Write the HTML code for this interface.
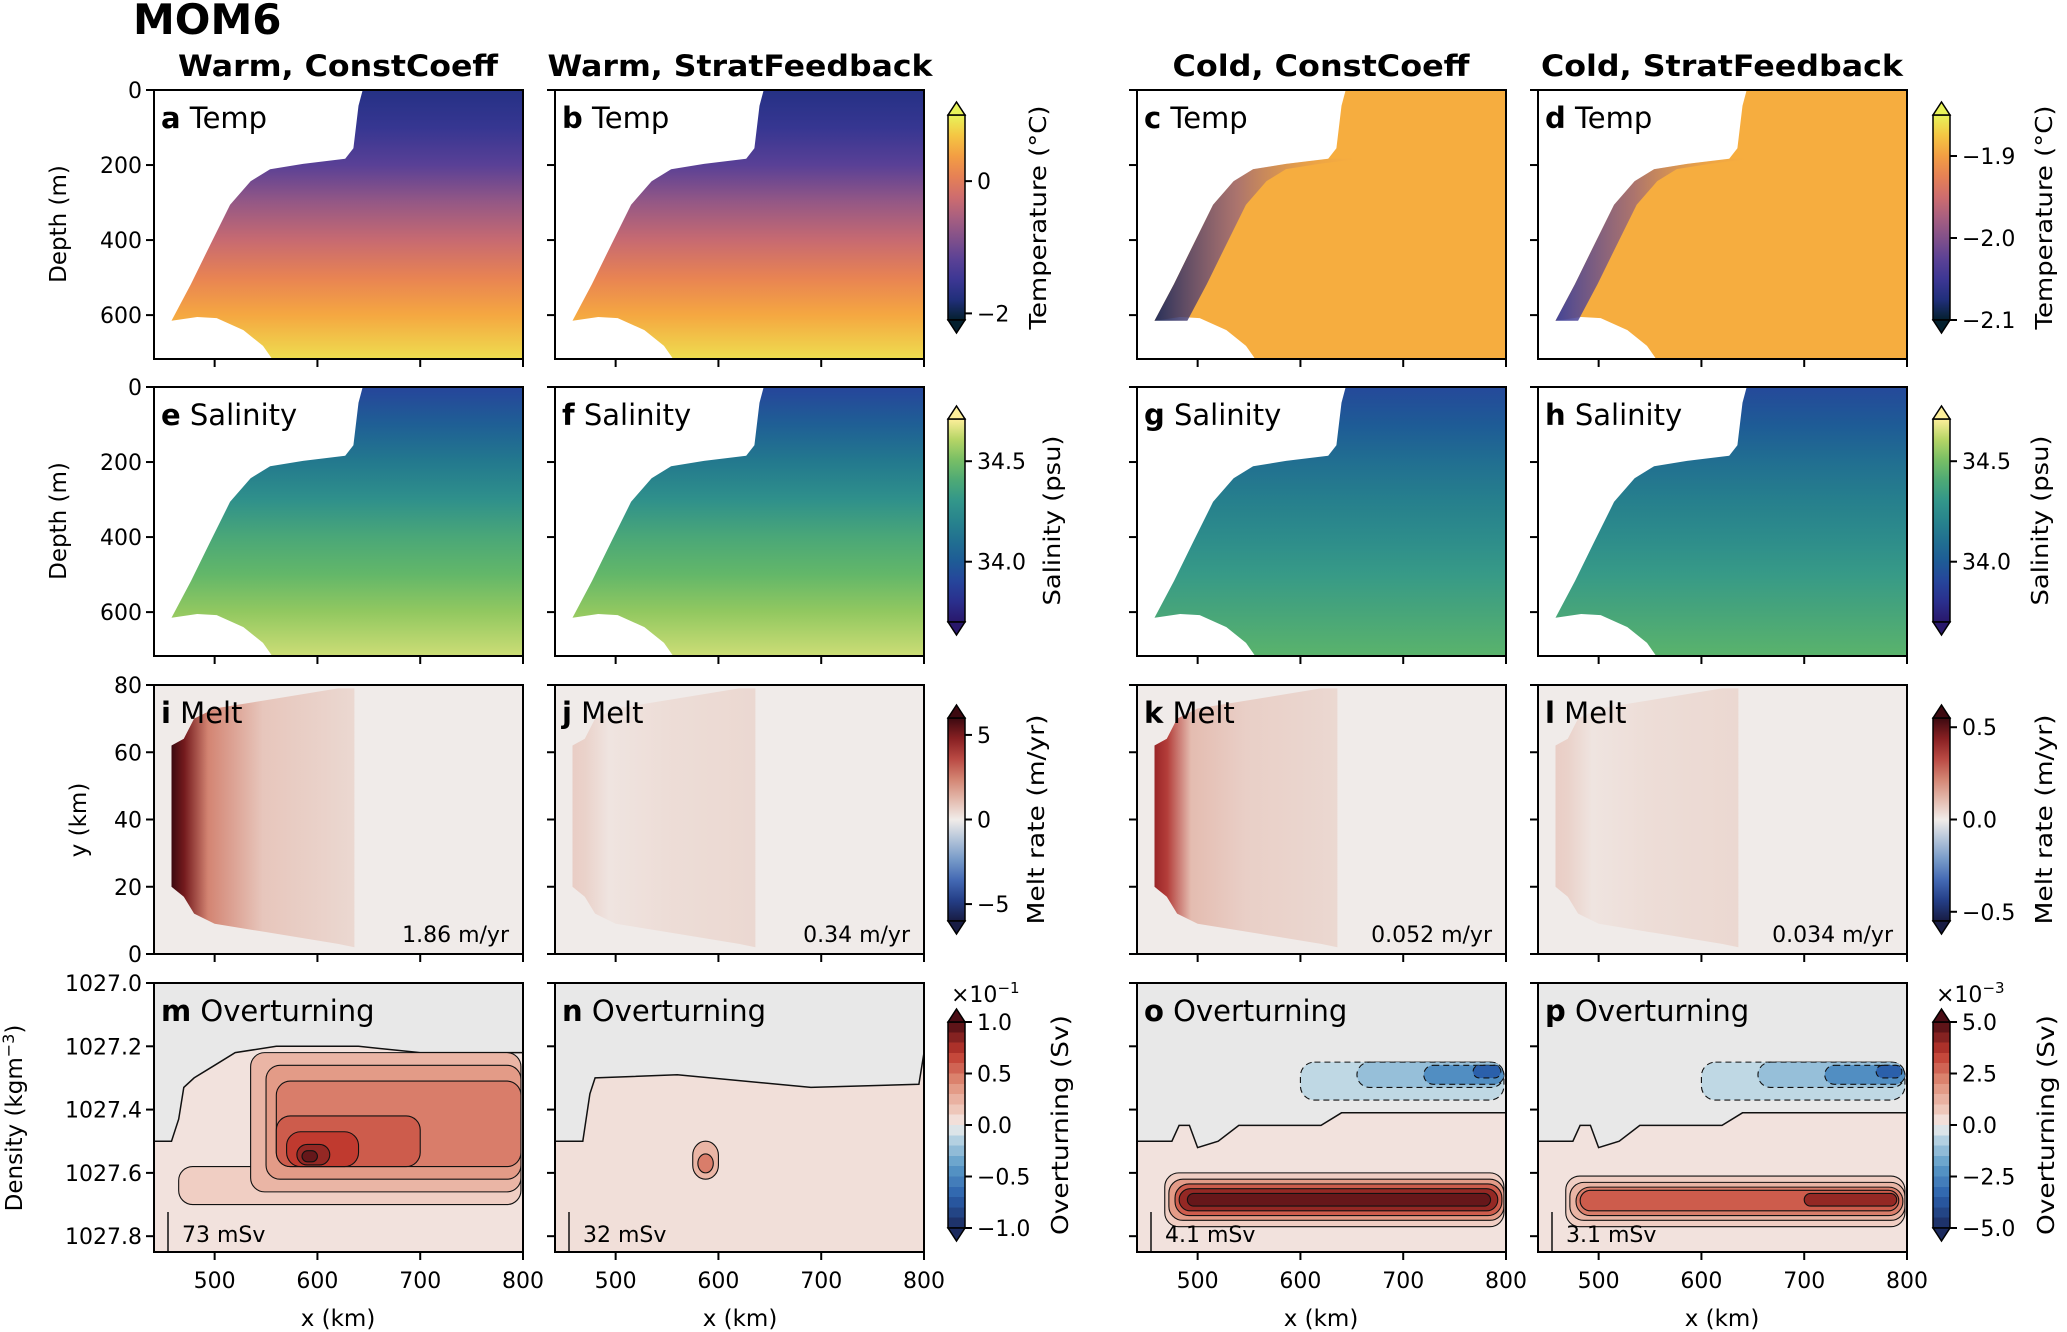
<!DOCTYPE html>
<html><head><meta charset="utf-8">
<style>
html,body{margin:0;padding:0;background:#fff;}
svg{display:block;font-family:"DejaVu Sans","Liberation Sans",sans-serif;}
</style></head>
<body>
<svg id="fig" xmlns="http://www.w3.org/2000/svg" width="2067" height="1332" viewBox="0 0 2067 1332">
<text x="133" y="34" font-size="42" font-weight="bold">MOM6</text>
<text x="338" y="76" font-size="29" font-weight="bold" text-anchor="middle" textLength="320" lengthAdjust="spacingAndGlyphs">Warm, ConstCoeff</text>
<text x="740" y="76" font-size="29" font-weight="bold" text-anchor="middle" textLength="385" lengthAdjust="spacingAndGlyphs">Warm, StratFeedback</text>
<text x="1321" y="76" font-size="29" font-weight="bold" text-anchor="middle" textLength="297" lengthAdjust="spacingAndGlyphs">Cold, ConstCoeff</text>
<text x="1722" y="76" font-size="29" font-weight="bold" text-anchor="middle" textLength="362" lengthAdjust="spacingAndGlyphs">Cold, StratFeedback</text>
<text transform="translate(66,224) rotate(-90)" font-size="23" text-anchor="middle">Depth (m)</text>
<text transform="translate(66,521) rotate(-90)" font-size="23" text-anchor="middle">Depth (m)</text>
<text transform="translate(86,820) rotate(-90)" font-size="23" text-anchor="middle">y (km)</text>
<text transform="translate(22,1118) rotate(-90)" font-size="23" text-anchor="middle">Density (kgm<tspan dy="-8" font-size="16">−3</tspan><tspan dy="8">)</tspan></text>
<text x="338" y="1326" font-size="23" text-anchor="middle">x (km)</text>
<text x="740" y="1326" font-size="23" text-anchor="middle">x (km)</text>
<text x="1321" y="1326" font-size="23" text-anchor="middle">x (km)</text>
<text x="1722" y="1326" font-size="23" text-anchor="middle">x (km)</text>
<defs id="defs"></defs>
<g id="layer"></g>
</svg>
<script>
// ---- data ----
const xTicks=[500,600,700,800];
const depthTicks=[0,200,400,600];
const yKmTicks=[0,20,40,60,80];
const densTicks=[1027.0,1027.2,1027.4,1027.6,1027.8];
const densTickLabels=["1027.0","1027.2","1027.4","1027.6","1027.8"];
const draftX=[458,477,496,515,535,554,586,627,635,640,644];
const draftD=[615,517,411,306,243,211,197,183,155,42,0];
const bedX=[458,483,502,528,547,556];
const bedD=[615,605,608,640,682,717];
const profDepth=[0,100,200,300,400,500,600,717];
const tempWarm=[-1.75,-1.55,-1.2,-0.7,-0.3,0.1,0.45,0.85];
const tempCold=[-1.89,-1.89,-1.89,-1.89,-1.89,-1.89,-1.89,-1.89];
const saltWarm=[33.9,34.02,34.15,34.27,34.39,34.47,34.55,34.64];
const saltCold=[33.92,34.0,34.1,34.18,34.25,34.32,34.38,34.45];
const meltMean=["1.86 m/yr","0.34 m/yr","0.052 m/yr","0.034 m/yr"];
const otMax=["73 mSv","32 mSv","4.1 mSv","3.1 mSv"];
const meltPeak=[1.0,0.12,0.75,0.12];
const otM=[[465,798,1027.58,1027.70,1],[535,798,1027.22,1027.66,2],[550,798,1027.26,1027.62,3],[560,798,1027.31,1027.58,4],[560,700,1027.42,1027.58,5],[570,640,1027.47,1027.58,6],[580,612,1027.51,1027.575,7],[585,600,1027.53,1027.565,8]];
const otN=[[575,600,1027.50,1027.62,2],[580,595,1027.54,1027.60,4]];
const otO=[[468,798,1027.60,1027.77,1],[472,798,1027.62,1027.75,3],[478,796,1027.635,1027.735,5],[482,792,1027.65,1027.72,7],[490,785,1027.665,1027.705,8],[600,798,1027.25,1027.37,-1],[655,798,1027.25,1027.33,-2],[720,798,1027.26,1027.32,-4],[768,795,1027.26,1027.30,-6]];
const otP=[[468,798,1027.61,1027.77,1],[472,798,1027.63,1027.75,2],[478,796,1027.645,1027.735,4],[482,792,1027.655,1027.72,5],[700,790,1027.665,1027.705,7],[600,798,1027.25,1027.37,-1],[655,798,1027.25,1027.33,-2],[720,798,1027.26,1027.32,-4],[770,795,1027.26,1027.30,-6]];
const otBoundM=[[441,1027.5],[458,1027.5],[465,1027.43],[470,1027.33],[480,1027.3],[500,1027.26],[520,1027.22],[560,1027.2],[640,1027.2],[700,1027.22],[800,1027.22]];
const otBoundN=[[441,1027.5],[468,1027.5],[475,1027.35],[480,1027.3],[560,1027.29],[690,1027.33],[795,1027.32],[800,1027.22]];
const otBoundO=[[441,1027.5],[475,1027.5],[482,1027.45],[492,1027.45],[500,1027.52],[520,1027.5],[540,1027.45],[620,1027.45],[640,1027.41],[800,1027.41]];

// ---- layout ----
const colL=[154,555,1137,1538], rowT=[90,387,685,983], PW=369, PH=269;
const X0=441,X1=800;
const NS="http://www.w3.org/2000/svg";
const layer=document.getElementById('layer'), defs=document.getElementById('defs');
function el(tag,attrs,parent){const e=document.createElementNS(NS,tag);for(const k in attrs)e.setAttribute(k,attrs[k]);(parent||layer).appendChild(e);return e;}
function sx(c,x){return colL[c]+(x-X0)/(X1-X0)*PW;}
function sDepth(r,d){return rowT[r]+d/717*PH;}
function sYkm(r,y){return rowT[r]+(80-y)/80*PH;}
function sDens(r,d){return rowT[r]+(d-1027.0)/0.85*PH;}
function lerpHex(a,b,t){const pa=[1,3,5].map(i=>parseInt(a.substr(i,2),16)),pb=[1,3,5].map(i=>parseInt(b.substr(i,2),16));return 'rgb('+pa.map((v,i)=>Math.round(v+(pb[i]-v)*t)).join(',')+')';}
function cmap(stops,t){t=Math.max(0,Math.min(1,t));for(let i=1;i<stops.length;i++){if(t<=stops[i][0]){const s=(t-stops[i-1][0])/(stops[i][0]-stops[i-1][0]);return lerpHex(stops[i-1][1],stops[i][1],s);}}return stops[stops.length-1][1];}
const thermal=[[0,'#04202e'],[0.12,'#27328a'],[0.25,'#4a3a9a'],[0.38,'#7a4e8c'],[0.5,'#a85f80'],[0.62,'#d6706a'],[0.75,'#f08c48'],[0.87,'#f8b83c'],[1,'#e8f35a']];
const haline=[[0,'#29186b'],[0.15,'#2a3a9e'],[0.3,'#1e5c96'],[0.45,'#237a8e'],[0.6,'#33978a'],[0.75,'#5cb46a'],[0.88,'#a8d05c'],[1,'#fdef9a']];
const balance=[[0,'#181c43'],[0.15,'#2a4fa8'],[0.32,'#7fa3cc'],[0.5,'#f1ece9'],[0.68,'#d8907c'],[0.85,'#ac2b2b'],[1,'#3c0910']];
const rdbu=[[0,'#1b2a5e'],[0.15,'#2a5fab'],[0.3,'#5b9bc8'],[0.45,'#c5dbe6'],[0.5,'#f3ecea'],[0.55,'#f1d2c7'],[0.7,'#e0907a'],[0.85,'#c0392e'],[1,'#4a0c14']];
function otColor(lv){return cmap(rdbu,0.5+lv*0.058);}

function axes(r,c,yt,ylab,ymap){
  for(let i=0;i<yt.length;i++){
    const y=ymap(r,yt[i]);
    const t=el('line',{x1:colL[c]-8,x2:colL[c],y1:y,y2:y,stroke:'#000','stroke-width':2});
    
    
    if(c===0){
      const tx=el('text',{x:colL[c]-12,y:y+8,'font-size':22,'text-anchor':'end'});
      
      
      tx.textContent=ylab[i];
    }
  }
  for(const xv of xTicks){
    const x=sx(c,xv);
    const t=el('line',{x1:x,x2:x,y1:rowT[r]+PH,y2:rowT[r]+PH+8,stroke:'#000','stroke-width':2});
    
    
    if(r===3){
      const tx=el('text',{x:x,y:rowT[r]+PH+36,'font-size':22,'text-anchor':'middle'});
      
      
      tx.textContent=String(xv);
    }
  }
  const f=el('rect',{x:colL[c],y:rowT[r],width:PW,height:PH,fill:'none',stroke:'#000','stroke-width':2});
  
  
}
function label(r,c,letter,name){
  const t=el('text',{x:colL[c]+7,y:rowT[r]+38,'font-size':29});
  
  
  t.innerHTML='<tspan font-weight="bold">'+letter+'</tspan> '+name;
}

function waterPoly(r,c){
  const p=[[sx(c,644),sDepth(r,0)],[sx(c,800),sDepth(r,0)],[sx(c,800),sDepth(r,717)]];
  for(let i=bedX.length-1;i>=0;i--)p.push([sx(c,bedX[i]),sDepth(r,bedD[i])]);
  for(let i=0;i<draftX.length;i++)p.push([sx(c,draftX[i]),sDepth(r,draftD[i])]);
  return p.map(q=>q[0].toFixed(1)+','+q[1].toFixed(1)).join(' ');
}
function section(r,c,prof,stops,vmin,vmax,id){
  const g=el('linearGradient',{id:id,x1:0,y1:0,x2:0,y2:1},defs);
  for(let i=0;i<profDepth.length;i++){
    el('stop',{offset:profDepth[i]/717,'stop-color':cmap(stops,(prof[i]-vmin)/(vmax-vmin))},g);
  }
  const p=el('polygon',{points:waterPoly(r,c),fill:'url(#'+id+')'});
  
  
}
const rowLetters=[['a','b','c','d'],['e','f','g','h'],['i','j','k','l'],['m','n','o','p']];
for(let c=0;c<4;c++){
  const warm=c<2;
  if(warm) section(0,c,tempWarm,thermal,-2.1,1.0,'temp'+c);
  else section(0,c,tempCold,thermal,-2.1,-1.85,'temp'+c);
  if(!warm){
    const cid='coldedge'+c;
    const g=el('linearGradient',{id:cid,x1:0,y1:0,x2:1,y2:0},defs);
    el('stop',{offset:0,'stop-color':c===2?'#1d2a5a':'#3a3f9a','stop-opacity':0.95},g);
    el('stop',{offset:0.4,'stop-color':'#7a4e8c','stop-opacity':0.6},g);
    el('stop',{offset:1,'stop-color':'#f4a040','stop-opacity':0},g);
    const pts=[];
    for(let i=0;i<8;i++)pts.push([sx(c,draftX[i]),sDepth(0,draftD[i])]);
    for(let i=7;i>=0;i--)pts.push([sx(c,draftX[i]+(c===2?32:22)),sDepth(0,draftD[i])]);
    const s=el('polygon',{points:pts.map(q=>q.join(',')).join(' '),fill:'url(#'+cid+')'});
    
    
  }
  if(warm) section(1,c,saltWarm,haline,33.7,34.71,'salt'+c);
  else section(1,c,saltCold,haline,33.7,34.71,'salt'+c);
  axes(0,c,depthTicks,depthTicks.map(String),sDepth);
  axes(1,c,depthTicks,depthTicks.map(String),sDepth);
  label(0,c,rowLetters[0][c],'Temp');
  label(1,c,rowLetters[1][c],'Salinity');
}

for(let c=0;c<4;c++){
  const r=2;
  const bg=el('rect',{x:colL[c],y:rowT[r],width:PW,height:PH,fill:'#f0ebe9'});
  
  
  const gid='melt'+c, pk=meltPeak[c];
  const g=el('linearGradient',{id:gid,x1:0,y1:0,x2:1,y2:0},defs);
  el('stop',{offset:0,'stop-color':cmap(balance,0.5+0.5*pk)},g);
  el('stop',{offset:0.07,'stop-color':cmap(balance,0.5+0.5*pk*0.85)},g);
  el('stop',{offset:0.2,'stop-color':cmap(balance,0.5+0.5*pk*(c===0?0.4:0.25))},g);
  el('stop',{offset:0.5,'stop-color':cmap(balance,0.5+0.5*Math.max(pk*0.15,0.06))},g);
  el('stop',{offset:1,'stop-color':cmap(balance,0.5+0.04)},g);
  const shape=[[458,20],[458,62],[470,64],[480,70],[500,73],[560,76],[620,79],[636,79],[636,2],[620,3],[560,6],[500,9],[480,12],[470,17]];
  const p=el('polygon',{points:shape.map(q=>sx(c,q[0]).toFixed(1)+','+sYkm(r,q[1]).toFixed(1)).join(' '),fill:'url(#'+gid+')'});
  
  
  axes(r,c,yKmTicks,yKmTicks.map(String),sYkm);
  label(r,c,rowLetters[2][c],'Melt');
  const t=el('text',{x:colL[c]+PW-14,y:rowT[r]+PH-12,'font-size':22,'text-anchor':'end'});
  
  
  t.textContent=meltMean[c];
}

const otBoxes=[otM,otN,otO,otP];
const otBounds=[otBoundM,otBoundN,otBoundO,otBoundO];
for(let c=0;c<4;c++){
  const r=3;
  const bg=el('rect',{x:colL[c],y:rowT[r],width:PW,height:PH,fill:'#e8e8e8'});
  
  
  const b=otBounds[c];
  const pts=b.map(q=>[sx(c,q[0]),sDens(r,q[1])]);
  pts.push([colL[c]+PW,rowT[r]+PH],[colL[c],rowT[r]+PH]);
  const pk=el('polygon',{points:pts.map(q=>q[0].toFixed(1)+','+q[1].toFixed(1)).join(' '),fill:c===1?'#f1dfd9':'#f2e2dd'});
  
  
  const ln=el('polyline',{points:b.map(q=>sx(c,q[0]).toFixed(1)+','+sDens(r,q[1]).toFixed(1)).join(' '),fill:'none',stroke:'#111','stroke-width':1.5});
  
  
  for(const bx of otBoxes[c]){
    const x0=sx(c,bx[0]),x1=sx(c,bx[1]),y0=sDens(r,bx[2]),y1=sDens(r,bx[3]);
    const rr=el('rect',{x:x0,y:y0,width:x1-x0,height:y1-y0,rx:Math.min(14,(y1-y0)/2),fill:otColor(bx[4]),stroke:'#111','stroke-width':1.1,'stroke-dasharray':bx[4]<0?'6,4':'none'});
    
    
  }
  const vl=el('line',{x1:colL[c]+14,x2:colL[c]+14,y1:rowT[r]+PH-40,y2:rowT[r]+PH,stroke:'#111','stroke-width':1.5});
  
  
  axes(r,c,densTicks,densTickLabels,sDens);
  label(r,c,rowLetters[3][c],'Overturning');
  const t=el('text',{x:colL[c]+28,y:rowT[r]+PH-10,'font-size':22});
  
  
  t.textContent=otMax[c];
}

const cbLeftX=948, cbRightX=1933, CBW=17;
const cbDefs=[
 {row:0,y0:115,y1:320,stops:thermal,L:{min:-2.1,max:1.0,ticks:[0,-2],labels:['0','−2']},R:{min:-2.1,max:-1.85,ticks:[-1.9,-2.0,-2.1],labels:['−1.9','−2.0','−2.1']},title:'Temperature (°C)',tl:224,txL:1046,txR:2052,low:'#04202e',high:'#e8f35a'},
 {row:1,y0:419,y1:622,stops:haline,L:{min:33.7,max:34.71,ticks:[34.5,34.0],labels:['34.5','34.0']},R:{min:33.7,max:34.71,ticks:[34.5,34.0],labels:['34.5','34.0']},title:'Salinity (psu)',tl:170,txL:1060,txR:2048,low:'#29186b',high:'#fdef9a'},
 {row:2,y0:718,y1:921,stops:balance,L:{min:-6,max:6,ticks:[5,0,-5],labels:['5','0','−5']},R:{min:-0.55,max:0.55,ticks:[0.5,0.0,-0.5],labels:['0.5','0.0','−0.5']},title:'Melt rate (m/yr)',tl:210,txL:1044,txR:2052,low:'#181c43',high:'#3c0910'},
 {row:3,y0:1022,y1:1228,stops:rdbu,L:{min:-1,max:1,ticks:[1,0.5,0,-0.5,-1],labels:['1.0','0.5','0.0','−0.5','−1.0']},R:{min:-5,max:5,ticks:[5,2.5,0,-2.5,-5],labels:['5.0','2.5','0.0','−2.5','−5.0']},title:'Overturning (Sv)',tl:220,txL:1068,txR:2054,low:'#1b2a5e',high:'#4a0c14',stepped:true}
];
cbDefs.forEach((d,i)=>{
  [['L',cbLeftX,d.txL],['R',cbRightX,d.txR]].forEach(([side,x,tx])=>{
    const gid='cb'+i+side;
    const g=el('linearGradient',{id:gid,x1:0,y1:1,x2:0,y2:0},defs);
    const n=d.stepped?20:10;
    for(let k=0;k<=n;k++){
      if(d.stepped){
        const col=cmap(d.stops,(k+0.5)/n);
        el('stop',{offset:k/n,'stop-color':col},g);
        el('stop',{offset:Math.min(1,(k+1)/n),'stop-color':col},g);
      } else el('stop',{offset:k/n,'stop-color':cmap(d.stops,k/n)},g);
    }
    const bar=el('rect',{x:x,y:d.y0,width:CBW,height:d.y1-d.y0,fill:'url(#'+gid+')',stroke:'#000','stroke-width':1.5});
    
    
    const up=el('polygon',{points:`${x},${d.y0} ${x+CBW/2},${d.y0-13} ${x+CBW},${d.y0}`,fill:d.high,stroke:'#000','stroke-width':1.5});
    
    
    const dn=el('polygon',{points:`${x},${d.y1} ${x+CBW/2},${d.y1+13} ${x+CBW},${d.y1}`,fill:d.low,stroke:'#000','stroke-width':1.5});
    
    
    const s=d[side];
    s.ticks.forEach((tv,k)=>{
      const y=d.y1-(tv-s.min)/(s.max-s.min)*(d.y1-d.y0);
      const tk=el('line',{x1:x+CBW,x2:x+CBW+7,y1:y,y2:y,stroke:'#000','stroke-width':2});
      
      
      const lb=el('text',{x:x+CBW+12,y:y+8,'font-size':22});
      
      
      lb.textContent=s.labels[k];
    });
    const tt=el('text',{transform:`translate(${tx},${(d.y0+d.y1)/2}) rotate(-90)`,'font-size':23,'text-anchor':'middle',textLength:d.tl,lengthAdjust:'spacingAndGlyphs'});
    
    
    tt.textContent=d.title;
    if(d.stepped){
      const ex=el('text',{x:x+3,y:d.y0-20,'font-size':22});
      
      
      ex.innerHTML='×10<tspan dy="-9" font-size="15">'+(side==='L'?'−1':'−3')+'</tspan>';
    }
  });
});
</script>
</body></html>
